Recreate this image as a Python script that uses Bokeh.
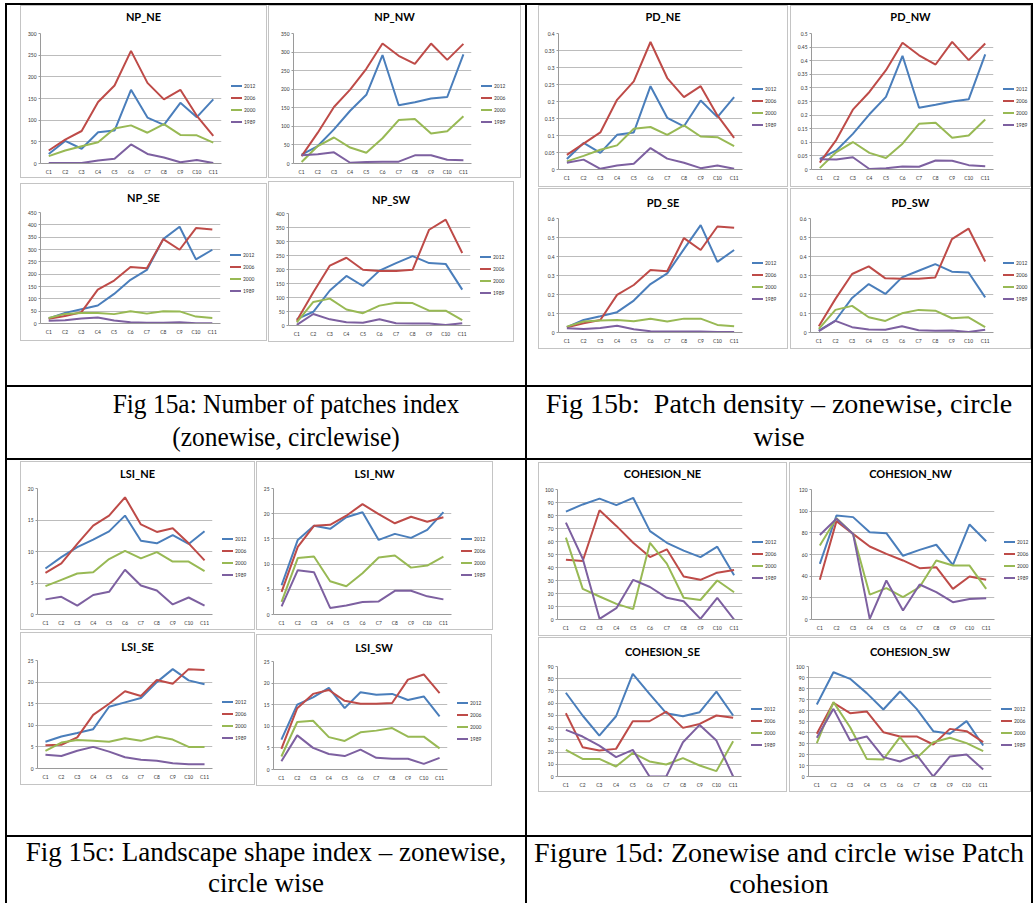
from bokeh.plotting import figure
from bokeh.models import FactorRange, Range1d, FixedTicker, NumeralTickFormatter, Div, Spacer
from bokeh.layouts import row, column
from bokeh.embed import file_html
from bokeh.resources import INLINE

# ---------------- data ----------------
circles = ["C1", "C2", "C3", "C4", "C5", "C6", "C7", "C8", "C9", "C10", "C11"]
years = ["2012", "2006", "2000", "1989"]

NP_NE = {"2012": [22, 52, 34, 72, 76, 170, 106, 89, 140, 107, 148],
         "2006": [30, 55, 75, 142, 180, 260, 186, 148, 170, 110, 64],
         "2000": [17, 30, 40, 49, 81, 88, 71, 91, 66, 65, 48],
         "1989": [1, 1, 1, 7, 11, 44, 22, 14, 3, 8, 1]}
NP_NW = {"2012": [24, 47, 92, 142, 185, 292, 157, 165, 175, 179, 294],
         "2006": [20, 83, 152, 199, 255, 323, 290, 268, 323, 279, 322],
         "2000": [4, 47, 70, 43, 29, 68, 117, 120, 81, 87, 127],
         "1989": [22, 25, 30, 2, 4, 5, 5, 22, 22, 10, 9]}
NP_SE = {"2012": [20, 43, 58, 73, 120, 177, 217, 342, 392, 260, 299],
         "2006": [19, 30, 46, 137, 174, 229, 224, 342, 299, 387, 381],
         "2000": [22, 39, 43, 43, 38, 50, 40, 50, 49, 28, 22],
         "1989": [11, 13, 20, 24, 12, 5, 3, 3, 5, 1, 1]}
NP_SW = {"2012": [23, 49, 125, 177, 141, 196, 223, 248, 223, 220, 128],
         "2006": [17, 119, 214, 242, 199, 195, 195, 199, 342, 378, 259],
         "2000": [11, 84, 96, 57, 44, 71, 81, 80, 53, 53, 19],
         "1989": [2, 41, 22, 12, 10, 22, 8, 7, 7, 2, 8]}

PD_NE = {"2012": [0.031, 0.078, 0.049, 0.102, 0.109, 0.245, 0.152, 0.127, 0.203, 0.154, 0.213],
         "2006": [0.043, 0.076, 0.109, 0.205, 0.259, 0.375, 0.269, 0.213, 0.245, 0.159, 0.093],
         "2000": [0.024, 0.040, 0.058, 0.071, 0.120, 0.125, 0.102, 0.130, 0.097, 0.095, 0.069],
         "1989": [0.020, 0.029, 0.002, 0.012, 0.017, 0.063, 0.032, 0.020, 0.004, 0.012, 0.002]}
PD_NW = {"2012": [0.039, 0.070, 0.131, 0.203, 0.267, 0.418, 0.227, 0.238, 0.250, 0.258, 0.423],
         "2006": [0.025, 0.109, 0.220, 0.285, 0.365, 0.466, 0.420, 0.386, 0.469, 0.402, 0.463],
         "2000": [0.005, 0.064, 0.101, 0.061, 0.042, 0.095, 0.168, 0.172, 0.117, 0.125, 0.184],
         "1989": [0.038, 0.037, 0.045, 0.002, 0.005, 0.011, 0.010, 0.033, 0.032, 0.016, 0.012]}
PD_SE = {"2012": [0.028, 0.066, 0.086, 0.107, 0.168, 0.255, 0.311, 0.439, 0.565, 0.372, 0.434],
         "2006": [0.028, 0.049, 0.066, 0.198, 0.250, 0.329, 0.322, 0.497, 0.434, 0.558, 0.551],
         "2000": [0.031, 0.058, 0.063, 0.066, 0.059, 0.072, 0.058, 0.073, 0.073, 0.040, 0.033],
         "1989": [0.023, 0.019, 0.024, 0.035, 0.017, 0.007, 0.005, 0.005, 0.005, 0.002, 0.002]}
PD_SW = {"2012": [0.010, 0.063, 0.182, 0.255, 0.203, 0.290, 0.325, 0.360, 0.320, 0.316, 0.185],
         "2006": [0.033, 0.177, 0.308, 0.348, 0.285, 0.283, 0.283, 0.290, 0.491, 0.547, 0.374],
         "2000": [0.019, 0.119, 0.140, 0.080, 0.061, 0.101, 0.119, 0.115, 0.075, 0.080, 0.028],
         "1989": [0.007, 0.061, 0.028, 0.016, 0.014, 0.033, 0.012, 0.009, 0.010, 0.003, 0.014]}

LSI_NE = {"2012": [7.3, 9.1, 10.7, 11.9, 13.2, 15.7, 11.7, 11.3, 12.6, 11.2, 13.2],
          "2006": [6.6, 8.1, 11.2, 14.1, 15.7, 18.6, 14.3, 13.1, 13.7, 11.3, 8.6],
          "2000": [4.5, 5.5, 6.5, 6.7, 8.8, 10.1, 8.9, 9.9, 8.4, 8.4, 6.9],
          "1989": [2.4, 2.8, 1.4, 3.1, 3.6, 7.1, 4.6, 3.8, 1.6, 2.7, 1.4]}
LSI_NW = {"2012": [5.8, 14.8, 17.6, 17.0, 19.3, 20.3, 14.8, 16.0, 15.2, 16.8, 20.3],
          "2006": [4.5, 13.4, 17.6, 17.8, 19.6, 21.9, 19.9, 18.1, 19.4, 18.4, 19.3],
          "2000": [2.5, 11.2, 11.5, 6.6, 5.6, 8.2, 11.3, 11.7, 9.3, 9.7, 11.5],
          "1989": [1.6, 8.8, 8.4, 1.3, 1.8, 2.5, 2.6, 4.7, 4.7, 3.6, 3.0]}
LSI_SE = {"2012": [6.2, 7.4, 8.2, 9.1, 14.3, 15.3, 16.3, 20.0, 23.0, 20.4, 19.5],
          "2006": [5.4, 5.5, 7.2, 12.4, 15.0, 17.9, 16.8, 20.5, 19.6, 23.0, 22.8],
          "2000": [4.1, 6.0, 6.6, 6.4, 6.2, 7.0, 6.4, 7.4, 6.7, 5.0, 5.0],
          "1989": [3.2, 2.9, 4.1, 5.0, 3.9, 2.6, 2.0, 1.8, 1.2, 1.0, 1.0]}
LSI_SW = {"2012": [6.9, 15.0, 16.7, 18.9, 14.2, 17.9, 17.3, 17.5, 16.1, 16.9, 12.3],
          "2006": [4.8, 14.2, 17.5, 18.4, 15.9, 15.2, 15.2, 15.4, 20.8, 22.0, 17.7],
          "2000": [3.0, 11.0, 11.3, 7.5, 6.6, 8.6, 9.0, 9.6, 7.6, 7.6, 4.9],
          "1989": [1.9, 7.9, 5.0, 3.6, 3.1, 4.6, 2.7, 2.5, 2.5, 1.3, 2.7]}

COH_NE = {"2012": [83, 88.5, 93, 88, 93.6, 68, 59, 53, 48, 56, 34],
          "2006": [46, 45, 84, 72, 59, 48, 54, 33, 30.5, 36, 38],
          "2000": [63, 23.6, 17.7, 12, 8, 59, 43, 16.7, 15, 30, 21],
          "1989": [74.5, 46.7, 0.5, 8.7, 30.5, 25, 16.7, 14, 0.5, 16.7, 0]}
COH_NW = {"2012": [51.4, 96, 94.5, 80.6, 79.7, 58.8, 64.3, 69, 50.5, 87.7, 72.3],
          "2006": [36.6, 90.8, 79, 67.4, 60.6, 54.5, 47.4, 48.3, 28.3, 39.7, 36.6],
          "2000": [68.3, 93.5, 79, 23, 29, 20.6, 30, 54.5, 49.8, 49.8, 28.3],
          "1989": [78, 93, 79, 0.6, 36, 8.3, 32.3, 25.2, 16, 19, 19.7]}
COH_SE = {"2012": [68.5, 49.9, 33.5, 49.3, 84, 67.6, 51.8, 49.3, 52.6, 69.5, 49.9],
          "2006": [51.8, 24, 21.3, 22.6, 45.2, 45.2, 53.1, 39.8, 43, 49.9, 48],
          "2000": [21.8, 14.4, 14.4, 8.2, 19.3, 12.3, 9.8, 15, 9, 4.4, 28.9],
          "1989": [38.1, 32.7, 25.3, 15.8, 21.8, 0, 0, 28, 42.2, 29.4, 0]}
COH_SW = {"2012": [65.5, 94.8, 88.8, 75.8, 60.9, 77.3, 61.5, 41.2, 38.8, 50.3, 28.2],
          "2006": [38.8, 67, 57.6, 59.1, 40.3, 36.4, 36.4, 29.1, 43.3, 41.2, 31.2],
          "2000": [30.3, 67.6, 44.8, 16, 15.5, 35.8, 16.7, 31.2, 35.2, 30.3, 23],
          "1989": [35.2, 61.5, 32.7, 36.4, 17.6, 13.6, 19.7, 0, 18.2, 20, 6.4]}

# y-axis maximum and tick step for each panel
y_axes = {"NP_NE": (300, 50), "NP_NW": (350, 50), "NP_SE": (450, 50), "NP_SW": (400, 50),
          "PD_NE": (0.4, 0.05), "PD_NW": (0.5, 0.05), "PD_SE": (0.6, 0.1), "PD_SW": (0.6, 0.1),
          "LSI_NE": (20, 5), "LSI_NW": (25, 5), "LSI_SE": (25, 5), "LSI_SW": (25, 5),
          "COHESION_NE": (100, 10), "COHESION_NW": (120, 20), "COHESION_SE": (90, 10),
          "COHESION_SW": (100, 10)}

captions = {
    "a": "Fig 15a: Number of patches index<br>(zonewise, circlewise)",
    "b": "Fig 15b: &nbsp;Patch density &ndash; zonewise, circle<br>wise",
    "c": "Fig 15c: Landscape shape index &ndash; zonewise,<br>circle wise",
    "d": "Figure 15d: Zonewise and circle wise Patch<br>cohesion",
}

# ---------------- styling / layout ----------------
COLORS = {"2012": "#4A7EBB", "2006": "#BE4B48", "2000": "#98B954", "1989": "#7D60A0"}
FONT = "Lato"
SMALL = "4.9px"

# name, data, x, y, w, h (box, relative to cell), frame borders l r t b, title centre offset
cell_a = [("NP_NE", NP_NE, 13, 0, 247, 173, 20, 46, 28, 14, 12),
          ("NP_SE", NP_SE, 13, 178, 247, 158, 20, 47, 29, 18, 15),
          ("NP_NW", NP_NW, 261, 0, 253, 173, 25, 50, 28, 14, 12),
          ("NP_SW", NP_SW, 261, 176, 246, 161, 20, 44, 32, 17, 19)]
cell_b = [("PD_NE", PD_NE, 11, 0, 250, 182, 20, 46, 28, 18, 12),
          ("PD_SE", PD_SE, 11, 183, 250, 161, 20, 46, 30, 17, 15),
          ("PD_NW", PD_NW, 263, 0, 241, 182, 21, 38, 28, 18, 12),
          ("PD_SW", PD_SW, 263, 183, 241, 161, 20, 38, 30, 17, 15)]
cell_c = [("LSI_NE", LSI_NE, 13, 1, 235, 169, 17, 43, 27, 16, 13),
          ("LSI_SE", LSI_SE, 13, 172, 235, 153, 17, 43, 28, 17, 15),
          ("LSI_NW", LSI_NW, 249, 1, 237, 169, 17, 42, 27, 16, 13),
          ("LSI_SW", LSI_SW, 249, 174, 236, 152, 17, 45, 27, 17, 14)]
cell_d = [("COHESION_NE", COH_NE, 11, 2, 249, 174, 19, 45, 27, 17, 12),
          ("COHESION_SE", COH_SE, 11, 177, 249, 155, 19, 46, 29, 16, 15),
          ("COHESION_NW", COH_NW, 261, 2, 243, 174, 22, 38, 27, 17, 12),
          ("COHESION_SW", COH_SW, 262, 177, 242, 155, 19, 40, 29, 16, 15)]


def make_panel(name, data, w, h, l, r, t, b, ty):
    ymax, ystep = y_axes[name]
    n = int(round(ymax / ystep))
    ticks = [round(i * ystep, 4) for i in range(n + 1)]
    TD = t - 3                 # title strip height
    FW = w - r + 1             # figure width (frame ends at w - r)
    LEGW = w - 2 - FW          # legend strip width
    FH = h - 2 - TD            # figure height
    fh = h - t - b             # frame height

    p = figure(width=FW, height=FH, title=None,
               x_range=FactorRange(factors=circles), y_range=Range1d(0, ymax),
               output_backend="svg", toolbar_location=None,
               min_border_left=l - 1, min_border_right=2,
               min_border_top=2, min_border_bottom=b - 1,
               outline_line_color=None, background_fill_color="white",
               border_fill_color="white")
    p.xgrid.visible = False
    p.ygrid.grid_line_color = "#bcbcbc"
    p.ygrid.grid_line_width = 1
    p.yaxis.ticker = FixedTicker(ticks=ticks)
    p.yaxis.formatter = NumeralTickFormatter(format="0.[00]")
    for ax in (p.xaxis[0], p.yaxis[0]):
        ax.axis_line_color = "#9a9a9a"
        ax.major_tick_line_color = "#9a9a9a"
        ax.minor_tick_line_color = None
        ax.major_label_text_font = FONT
        ax.major_label_text_font_size = SMALL
        ax.major_label_text_color = "#333333"
    p.yaxis.major_tick_out = 2
    p.yaxis.major_tick_in = 0
    p.yaxis.major_label_standoff = 2
    p.xaxis.major_tick_out = 0
    p.xaxis.major_tick_in = 0
    p.xaxis.major_label_standoff = 5
    for yr in years:
        p.line(x=circles, y=data[yr], line_color=COLORS[yr], line_width=2)

    title_html = ('<div style="width:%dpx;box-sizing:border-box;padding-top:%dpx;'
                  'text-align:center;font-family:Lato,sans-serif;font-weight:bold;'
                  'font-size:11px;line-height:14px;color:#000;white-space:nowrap;">%s</div>'
                  % (w - 2, max(ty - 8, 0), name))
    title_div = Div(text=title_html, width=w - 2, height=TD, margin=0)

    pad_top = int(round(2 + fh / 2.0 + 5 - 24))
    rows = ""
    for yr in years:
        rows += ('<div style="height:12px;line-height:12px;white-space:nowrap;">'
                 '<span style="display:inline-block;width:11px;height:2px;background:%s;'
                 'vertical-align:middle;"></span>'
                 '<span style="margin-left:2px;vertical-align:middle;">%s</span></div>'
                 % (COLORS[yr], yr))
    leg_html = ('<div style="width:%dpx;box-sizing:border-box;padding-left:8px;padding-top:%dpx;'
                'font-family:Lato,sans-serif;font-size:%s;color:#333;">%s</div>'
                % (LEGW, pad_top, SMALL, rows))
    leg_div = Div(text=leg_html, width=LEGW, height=FH, margin=0)

    return column([title_div, row([p, leg_div], spacing=0, margin=0)],
                  spacing=0, margin=0,
                  styles={"border": "1px solid #c4c4c4", "background-color": "#ffffff"})


def build_cell(spec, W, H):
    cols = []
    for k in (0, 2):
        children = []
        ycur = 0
        wmax = 0
        x0 = None
        for (name, data, x, y, w, h, l, r, t, b, ty) in spec[k:k + 2]:
            x0 = x
            if y - ycur > 0:
                children.append(Spacer(width=1, height=y - ycur, margin=0))
            children.append(make_panel(name, data, w, h, l, r, t, b, ty))
            ycur = y + h
            wmax = max(wmax, w)
        cols.append((x0, wmax, column(children, spacing=0, margin=0)))
    kids = []
    xcur = 0
    for x0, wmax, col in cols:
        if x0 - xcur > 0:
            kids.append(Spacer(width=x0 - xcur, height=1, margin=0))
        kids.append(col)
        xcur = x0 + wmax
    return row(kids, width=W, height=H, spacing=0, margin=0)


def vline(h):
    return Div(width=2, height=h, margin=0, styles={"background-color": "#000000"})


def hline(w):
    return Div(width=w, height=2, margin=0, styles={"background-color": "#000000"})


def caption(key, W, H, size, lh, extra=""):
    html = ('<div style="width:%dpx;box-sizing:border-box;'
            'font-family:\'Liberation Serif\',\'Times New Roman\',serif;'
            'font-size:%dpx;line-height:%dpx;text-align:center;color:#000;'
            'white-space:nowrap;%s">%s</div>' % (W, size, lh, extra, captions[key]))
    return Div(text=html, width=W, height=H, margin=0, styles={"overflow": "hidden"})


LW, RW = 518, 504
H1, H2, H3, H4 = 380, 71, 375, 66
TOT = 2 + LW + 2 + RW + 2

r1 = row([vline(H1), build_cell(cell_a, LW, H1), vline(H1), build_cell(cell_b, RW, H1), vline(H1)],
         spacing=0, margin=0)
r2 = row([vline(H2),
          caption("a", LW, H2, 28, 33, "padding-left:40px;transform:scaleX(0.908);transform-origin:279px 0;"),
          vline(H2), caption("b", RW, H2, 28, 33), vline(H2)],
         spacing=0, margin=0)
r3 = row([vline(H3), build_cell(cell_c, LW, H3), vline(H3), build_cell(cell_d, RW, H3), vline(H3)],
         spacing=0, margin=0)
r4 = row([vline(H4), caption("c", LW, H4, 27, 31), vline(H4),
          caption("d", RW, H4, 28, 31), vline(H4)], spacing=0, margin=0)

table = column([hline(TOT), r1, hline(TOT), r2, hline(TOT), r3, hline(TOT), r4],
               spacing=0, margin=0)
root = column([Spacer(width=1, height=3, margin=0),
               row([Spacer(width=5, height=1, margin=0), table], spacing=0, margin=0)],
              spacing=0, margin=0)

open("out.html", "w", encoding="utf-8").write(file_html(root, INLINE))
